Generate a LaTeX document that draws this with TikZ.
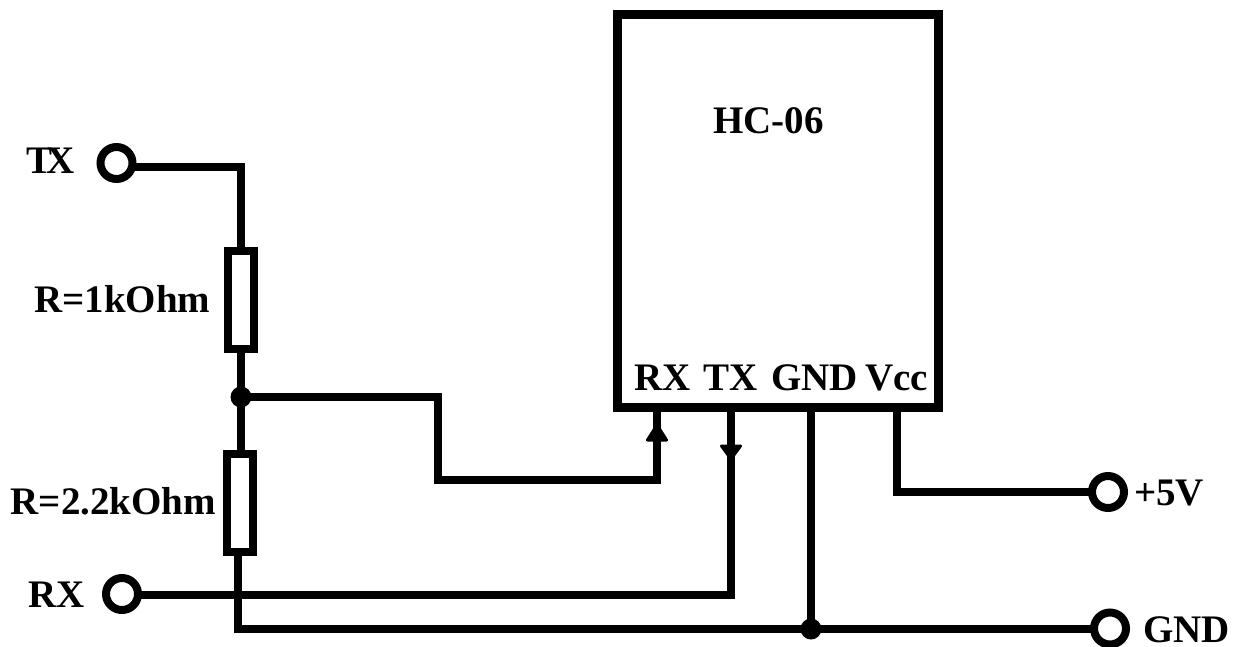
\documentclass[tikz,border=0pt]{standalone}
\usepackage{fontspec}
\setmainfont{Liberation Serif}
\tikzset{
  wire/.style={line width=8pt,line cap=butt,line join=miter},
  bodybox/.style={draw,line width=9pt,fill=white,inner sep=0pt,outer sep=0pt,minimum width=321pt,minimum height=393pt},
  resbox/.style={draw,line width=8pt,fill=white,inner sep=0pt,outer sep=0pt,minimum width=26pt,minimum height=98pt},
  term/.style={circle,draw,line width=8pt,fill=white,inner sep=0pt,outer sep=0pt,minimum size=32pt},
  joint/.style={circle,fill=black,inner sep=0pt,outer sep=0pt,minimum size=21pt},
  lab/.style={font=\bfseries\fontsize{39}{39}\selectfont,inner sep=0pt,anchor=base west,text=black},
  pinhead/.style={fill=black,draw=black,line width=3pt,line join=round}
}
\begin{document}
\begin{tikzpicture}[x=1pt,y=-1pt]
\useasboundingbox[fill=white] (0,0) rectangle (1238,647);
\node[bodybox] (chip) at (778,211) {};
\coordinate (pinRX) at (657,411);
\coordinate (pinTX) at (731,411);
\coordinate (pinGND) at (811,411);
\coordinate (pinVcc) at (897,411);
\node[resbox] (r1) at (241,300) {};
\node[resbox] (r2) at (240,503) {};
\node[term] (tTX) at (116.5,163) {};
\node[term] (tRX) at (122,594) {};
\node[term] (t5V) at (1108,492) {};
\node[term] (tGND) at (1110,628.5) {};
\node[joint] (j1) at (241,397) {};
\node[joint] (j2) at (811,629) {};
\coordinate (c1) at (241,167);
\coordinate (c2) at (438,397);
\coordinate (c3) at (438,480);
\coordinate (c4) at (657,480);
\coordinate (c5) at (731,595);
\coordinate (c6) at (897,492);
\coordinate (c7) at (238,628.5);
\draw[wire] (tTX.east |- c1) -- (c1) -- (r1.north);
\draw[wire] (r1.south) -- (j1.center);
\draw[wire] (j1.center) -- (r2.north -| j1);
\draw[wire] (j1.center) -- (c2) -- (c3) -- (c4) -- (pinRX);
\draw[wire] (tRX.east |- c5) -- (c5) -- (pinTX);
\draw[wire] (pinGND) -- (j2.center);
\draw[wire] (pinVcc) -- (c6) -- (t5V.west);
\draw[wire] (r2.south -| c7) -- (c7) -- (tGND.west);
\draw[pinhead] (657,425) -- (666.5,440) -- (647.5,440) -- cycle;
\draw[pinhead] (721.5,446) -- (740.5,446) -- (731,459) -- cycle;
\node[lab] (lHC) at (713,134) {HC-06};
\node[lab] (lRX) at (634,390) {RX};
\node[lab] (lTX) at (703,390) {TX};
\node[lab] (lGND) at (771,390) {GND};
\node[lab] (lVcc) at (865,390) {Vcc};
\node[lab] (lT) at (26,173) {T\kern-6ptX};
\node[lab] (lR1) at (34,312) {R=1kOhm};
\node[lab] (lR2) at (10.5,514) {R=2.2kOhm};
\node[lab] (lR) at (28,607) {RX};
\node[lab] (l5V) at (1134,505) {+5V};
\node[lab] (lG) at (1143,642) {GND};
\end{tikzpicture}
\end{document}
